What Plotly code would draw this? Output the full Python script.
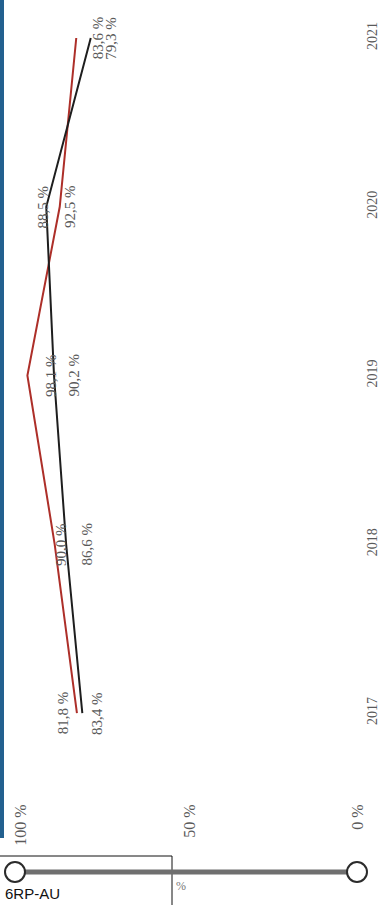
import plotly.graph_objects as go

# Chart data (page is scanned sideways: years run bottom -> top)
years = [2017, 2018, 2019, 2020, 2021]
red_values = [83.4, 90.0, 98.1, 88.5, 83.6]
black_values = [81.8, 86.6, 90.2, 92.5, 79.3]
value_ticks = [0, 50, 100]

WIDTH, HEIGHT = 390, 905
PLOT_LEFT, PLOT_RIGHT = 10, 364  # pixels
PLOT_TOP, PLOT_BOTTOM = 4, 764

SERIF = "Liberation Serif, Times New Roman, serif"
TEXT_GREY = "#5a5a5a"


def fmt_percent(value):
    """Format a number the way the page does, e.g. 81.8 -> '81,8 %'."""
    return f"{value:.1f}".replace(".", ",") + " %"


def px_to_paper(x_px, y_px):
    """Convert page pixels into paper coordinates of the plot area."""
    return (
        (x_px - PLOT_LEFT) / (PLOT_RIGHT - PLOT_LEFT),
        (PLOT_BOTTOM - y_px) / (PLOT_BOTTOM - PLOT_TOP),
    )


def value_labels(values, shifts):
    """Rotated data labels placed next to each point."""
    return [
        dict(
            x=v,
            y=yr,
            text=fmt_percent(v),
            textangle=-90,
            xshift=dx,
            showarrow=False,
            font=dict(family=SERIF, size=15, color=TEXT_GREY),
        )
        for v, yr, dx in zip(values, years, shifts)
    ]


fig = go.Figure()
fig.add_trace(
    go.Scatter(
        x=red_values, y=years, mode="lines",
        line=dict(color="#ad2f29", width=2), hoverinfo="skip",
    )
)
fig.add_trace(
    go.Scatter(
        x=black_values, y=years, mode="lines",
        line=dict(color="#1e1e1e", width=2), hoverinfo="skip",
    )
)

annotations = value_labels(red_values, [20, 7, 23, -17, 22])
annotations += value_labels(black_values, [-19, 21, 20, 23, 20])

# Bottom strip: box, code and small percent sign
bx, by = px_to_paper(3, 893)
annotations.append(dict(
    x=bx, y=by, xref="paper", yref="paper", xanchor="left", yanchor="middle",
    text="6RP-AU", showarrow=False,
    font=dict(family="Liberation Sans, Arial, sans-serif", size=15, color="#111"),
))
px_, py_ = px_to_paper(181, 895)
annotations.append(dict(
    x=px_, y=py_, xref="paper", yref="paper", text="%", showarrow=False,
    font=dict(family=SERIF, size=12, color="#777"),
))

shapes = []
# dark blue page edge on the left
x0, y0 = px_to_paper(0, 0)
x1, y1 = px_to_paper(4, 838)
shapes.append(dict(type="rect", xref="paper", yref="paper", x0=x0, y0=y0,
                   x1=x1, y1=y1, line=dict(width=0), fillcolor="#23608f"))
# box around the code
x0, y0 = px_to_paper(-2, 856)
x1, y1 = px_to_paper(172, 908)
shapes.append(dict(type="rect", xref="paper", yref="paper", x0=x0, y0=y0,
                   x1=x1, y1=y1, line=dict(color="#111", width=1)))
# grey slider bar with hollow circles at both ends
x0, y0 = px_to_paper(15, 872)
x1, _ = px_to_paper(357, 872)
shapes.append(dict(type="line", xref="paper", yref="paper", x0=x0, y0=y0,
                   x1=x1, y1=y0, line=dict(color="#6f6f6f", width=5)))
for cx in (x0, x1):
    shapes.append(dict(
        type="circle", xref="paper", yref="paper", xsizemode="pixel",
        ysizemode="pixel", xanchor=cx, yanchor=y0,
        x0=-10, x1=10, y0=-10, y1=10,
        line=dict(color="#2b2b2b", width=2), fillcolor="white",
    ))

fig.update_layout(
    width=WIDTH,
    height=HEIGHT,
    margin=dict(l=PLOT_LEFT, r=WIDTH - PLOT_RIGHT, t=PLOT_TOP,
                b=HEIGHT - PLOT_BOTTOM, pad=0, autoexpand=False),
    paper_bgcolor="white",
    plot_bgcolor="white",
    showlegend=False,
    annotations=annotations,
    shapes=shapes,
)
fig.update_xaxes(
    range=[103.26, -1.78],
    tickvals=value_ticks,
    ticktext=[f"{v} %" for v in value_ticks],
    tickangle=-90,
    ticks="outside", ticklen=33, tickcolor="rgba(0,0,0,0)",
    automargin=False,
    showgrid=False, zeroline=False, showline=False,
    tickfont=dict(family=SERIF, size=16, color=TEXT_GREY),
)
fig.update_yaxes(
    range=[2016.698, 2021.2015],
    tickvals=years,
    ticktext=[str(y) for y in years],
    side="right",
    tickangle=-90,
    ticklabelstandoff=-2,
    automargin=False,
    showgrid=False, zeroline=False, showline=False,
    tickfont=dict(family=SERIF, size=14, color=TEXT_GREY),
)

# drop the browser's default 8px body margin so the page edge lines up
fig.write_html(
    "out.html",
    config={"displayModeBar": False},
    post_script="document.body.style.margin = '0';",
)
